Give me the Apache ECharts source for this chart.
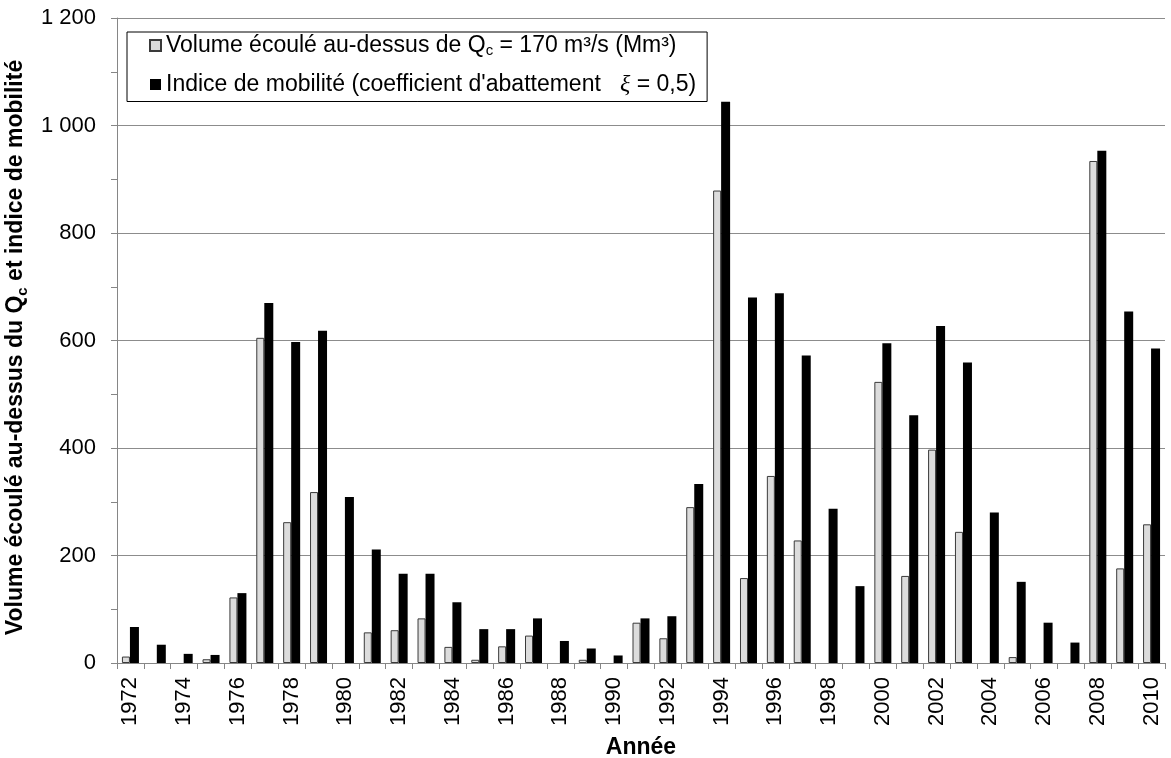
<!DOCTYPE html>
<html>
<head>
<meta charset="utf-8">
<script src="https://cdn.jsdelivr.net/npm/echarts@6/dist/echarts.min.js"></script>
<style>
html,body{margin:0;padding:0;background:#fff;}
#chart{width:1171px;height:758px;}
</style>
</head>
<body>
<div id="chart"></div>
<script>
var years = ['1972','1973','1974','1975','1976','1977','1978','1979','1980','1981','1982','1983','1984','1985','1986','1987','1988','1989','1990','1991','1992','1993','1994','1995','1996','1997','1998','1999','2000','2001','2002','2003','2004','2005','2006','2007','2008','2009','2010'];
var volume = [12,null,null,7,122,605,262,318,null,57,61,83,30,6,31,51,null,6,null,75,46,290,879,158,348,228,null,null,523,162,397,244,null,11,null,null,934,176,258];
var mobilite = [67,34,17,15,130,670,597,618,309,211,166,166,113,63,63,83,41,27,14,83,87,333,1044,680,688,572,287,143,595,461,627,559,280,151,75,38,953,654,585];
var yTicks = [0,200,400,600,800,1000,1200];

var FONT = '"Liberation Sans", Arial, sans-serif';
var chart = echarts.init(document.getElementById('chart'), null, {renderer:'canvas'});

chart.setOption({
  animation:false,
  backgroundColor:'#fff',
  textStyle:{fontFamily:FONT},
  grid:{left:117, right:6, top:18, bottom:95, containLabel:false, outerBoundsMode:'none'},
  legend:{
    orient:'vertical',
    left:127, top:32,
    backgroundColor:'#fff',
    borderColor:'#000', borderWidth:1,
    padding:[2,11,5,22],
    itemGap:14,
    itemWidth:11, itemHeight:11,
    icon:'rect',
    data:['vol','idx'],
    formatter:function(n){
      if(n==='vol') return '{t|Volume écoulé au-dessus de Q}{s|c}{t| = 170 m³/s (Mm³)}';
      return '{t|Indice de mobilité (coefficient d\'abattement   }{x|ξ}{t| = 0,5)}';
    },
    textStyle:{
      fontFamily:FONT, fontSize:23, color:'#000',
      rich:{
        t:{fontFamily:FONT, fontSize:23, color:'#000', lineHeight:26, verticalAlign:'middle'},
        s:{fontFamily:FONT, fontSize:15, color:'#000', lineHeight:15, verticalAlign:'bottom'},
        x:{fontFamily:'"Liberation Serif", serif', fontStyle:'italic', fontSize:24, color:'#000', lineHeight:26, verticalAlign:'middle'}
      }
    }
  },
  xAxis:{
    type:'category',
    data:years,
    boundaryGap:true,
    name:'Année',
    nameLocation:'middle',
    nameGap:73,
    nameTextStyle:{fontFamily:FONT, fontSize:23, fontWeight:'bold', color:'#000'},
    axisLine:{lineStyle:{color:'#868686', width:1}},
    axisTick:{show:true, interval:0, alignWithLabel:false, length:6, lineStyle:{color:'#868686'}},
    axisLabel:{interval:1, rotate:90, fontFamily:FONT, fontSize:22, color:'#000', margin:14},
    splitLine:{show:false}
  },
  yAxis:{
    type:'value',
    min:0, max:1200, interval:200,
    name:'{t|Volume écoulé au-dessus du Q}{s|c}{t| et indice de mobilité}',
    nameLocation:'middle',
    nameRotate:90,
    nameGap:77,
    nameTextStyle:{
      fontFamily:FONT, fontSize:23, fontWeight:'bold', color:'#000',
      padding:[0,14,0,0],
      rich:{
        t:{fontFamily:FONT, fontSize:23, fontWeight:'bold', color:'#000', lineHeight:28, verticalAlign:'middle'},
        s:{fontFamily:FONT, fontSize:15, fontWeight:'bold', color:'#000', lineHeight:15, verticalAlign:'bottom'}
      }
    },
    axisLine:{show:true, lineStyle:{color:'#868686', width:1}},
    axisTick:{show:true, length:6, lineStyle:{color:'#868686'}},
    minorTick:{show:true, splitNumber:2, length:6, lineStyle:{color:'#868686'}},
    axisLabel:{
      fontFamily:FONT, fontSize:22, color:'#000', margin:21,
      formatter:function(v){ return v>=1000 ? String(v).replace(/(\d)(\d{3})$/,'$1 $2') : String(v); }
    },
    splitLine:{show:true, lineStyle:{color:'#8c8c8c', width:1}}
  },
  series:[
    {
      name:'vol', type:'bar', data:volume,
      barWidth:8, barGap:'0%',
      itemStyle:{color:'#dcdcdc', borderColor:'#3a3a3a', borderWidth:1}
    },
    {
      name:'idx', type:'bar', data:mobilite,
      barWidth:9, barGap:'0%',
      itemStyle:{color:'#000', borderColor:'#000', borderWidth:0}
    }
  ]
});
</script>
</body>
</html>
